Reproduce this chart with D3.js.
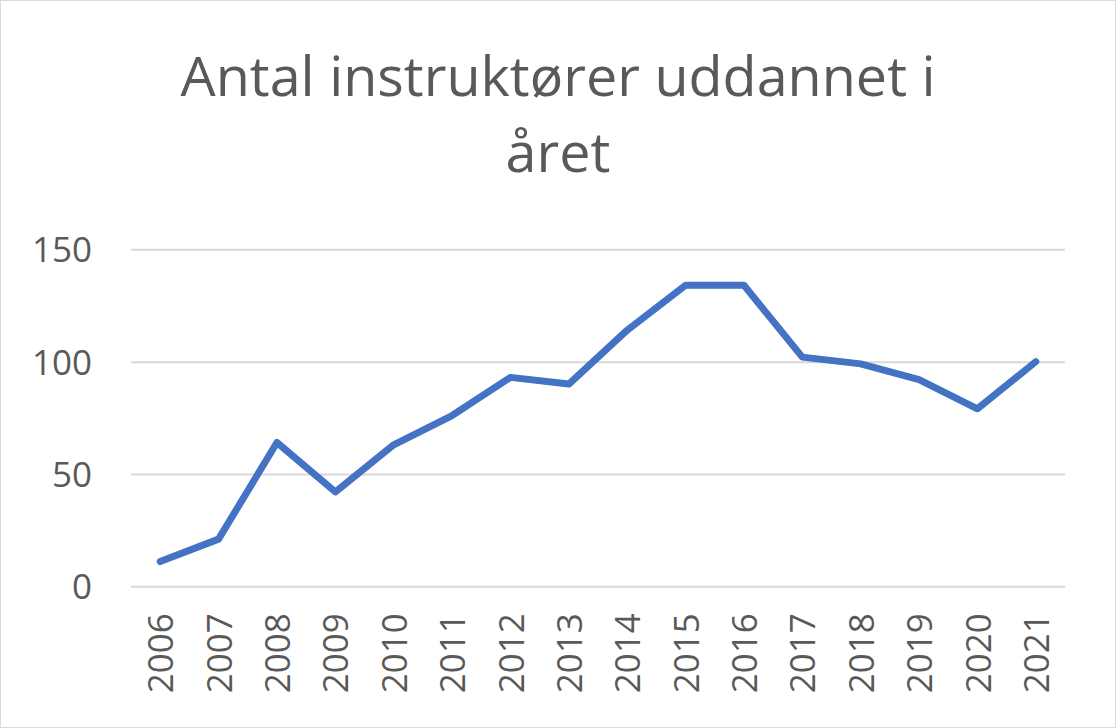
<!DOCTYPE html>
<html><head><meta charset="utf-8">
<script src="https://cdnjs.cloudflare.com/ajax/libs/d3/7.8.5/d3.min.js"></script>
<style>html,body{margin:0;padding:0;background:#fff;}svg{display:block;}</style>
</head><body>
<script>
const years = ["2006","2007","2008","2009","2010","2011","2012","2013","2014","2015","2016","2017","2018","2019","2020","2021"];
const values = [11,21,64,42,63,76,93,90,114,134,134,102,99,92,79,100];
const yTicks = [0,50,100,150];
const titleLines = ["Antal instruktører uddannet i","året"];

(function(){
const W=1116,H=728;
const svg=d3.select("body").append("svg").attr("width",W).attr("height",H);
svg.append("rect").attr("x",0.5).attr("y",0.5).attr("width",W-1).attr("height",H-1).attr("fill","#fff").attr("stroke","#d9d9d9").attr("stroke-width",1);

const pLeft=131,pRight=1065,pTop=249.3,pBottom=586.3;
const x=d3.scalePoint().domain(years).range([pLeft,pRight]).padding(0.5);
const y=d3.scaleLinear().domain([0,150]).range([pBottom,pTop]);
const font="'Open Sans', 'Noto Sans', sans-serif";

const yAxis=d3.axisLeft(y).tickValues(yTicks).tickSize(-(pRight-pLeft)).tickPadding(39);
const gy=svg.append("g").attr("transform",`translate(${pLeft},0)`).call(yAxis);
gy.select(".domain").remove();
gy.selectAll(".tick line").attr("stroke","#d9d9d9").attr("stroke-width",2);
gy.selectAll(".tick text").attr("fill","#595959").attr("font-family",font).attr("font-size",35).attr("dy","0.36em");

const xAxis=d3.axisBottom(x).tickSize(0).tickPadding(0);
const gx=svg.append("g").attr("transform",`translate(0,${pBottom})`).call(xAxis);
gx.select(".domain").remove();
gx.selectAll(".tick text").attr("fill","#595959").attr("font-family",font).attr("font-size",35)
  .attr("text-anchor","end").attr("transform","rotate(-90)").attr("x",-27).attr("y",0).attr("dy","0.36em");

const line=d3.line().x((d,i)=>x(years[i])).y(d=>y(d));
svg.append("path").datum(values).attr("d",line).attr("fill","none").attr("stroke","#4472C4")
  .attr("stroke-width",7).attr("stroke-linejoin","round").attr("stroke-linecap","round");

const fs=55;
const tt=svg.append("text").attr("text-anchor","middle").attr("fill","#595959").attr("font-family",font).attr("font-size",fs);
const t1=tt.append("tspan").attr("x",558).attr("y",96).text(titleLines[0]);
const t2=tt.append("tspan").attr("x",558).attr("y",172).text(titleLines[1]);
const w1=t1.node().getComputedTextLength(), w2=t2.node().getComputedTextLength();
const ratio=755/w1;
t1.attr("textLength",w1*ratio).attr("lengthAdjust","spacingAndGlyphs");
t2.attr("textLength",w2*ratio).attr("lengthAdjust","spacingAndGlyphs");
})();
</script>
</body></html>
